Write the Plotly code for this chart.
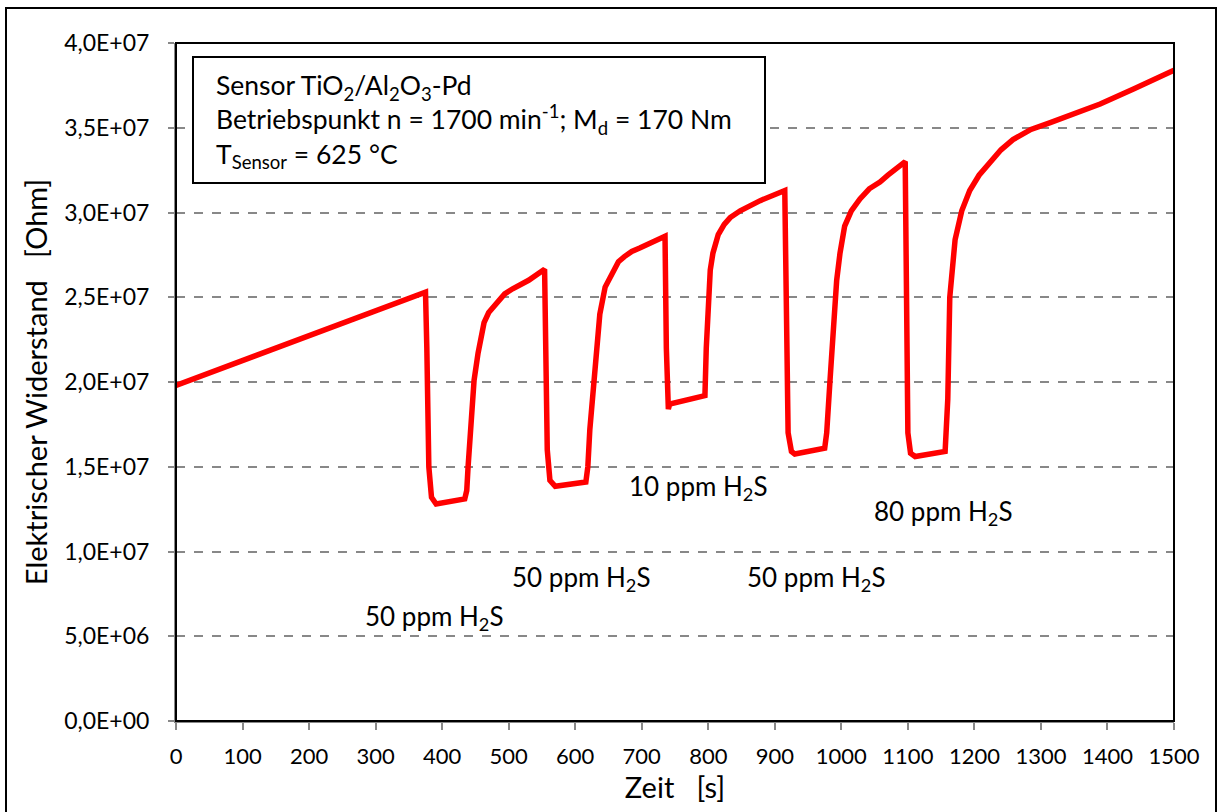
import plotly.graph_objects as go

# Time [s] and electrical resistance [Ohm]
zeit = [0, 375, 377, 380, 384, 391, 434, 437, 439, 444, 448, 454, 463, 470, 482, 494, 506, 530, 554,
        556, 558, 562, 570, 616, 619, 622, 627, 630, 634, 637, 645, 657, 665, 674, 685, 697, 718, 735,
        737, 738, 740, 742, 760, 795, 797, 800, 803, 807, 815, 824, 833, 848, 862, 878, 915,
        917, 920, 925, 930, 975, 978, 983, 988, 993, 998, 1005, 1015, 1028, 1042, 1058, 1070, 1080, 1096,
        1098, 1100, 1104, 1111, 1156, 1158, 1160, 1163, 1167, 1171, 1181, 1193, 1207, 1223, 1240, 1258,
        1285, 1314, 1350, 1389, 1440, 1500]
widerstand = [1.98e7, 2.53e7, 2.20e7, 1.50e7, 1.32e7, 1.28e7, 1.31e7, 1.36e7, 1.50e7, 1.80e7,
              2.01e7, 2.17e7, 2.35e7, 2.41e7, 2.47e7, 2.52e7, 2.55e7, 2.60e7, 2.665e7,
              2.20e7, 1.60e7, 1.42e7, 1.385e7, 1.41e7, 1.50e7, 1.72e7, 1.95e7, 2.13e7, 2.32e7,
              2.40e7, 2.56e7, 2.66e7, 2.71e7, 2.74e7, 2.77e7, 2.79e7, 2.83e7, 2.86e7,
              2.20e7, 1.87e7, 1.84e7, 1.87e7, 1.885e7, 1.92e7, 2.20e7, 2.50e7, 2.66e7, 2.76e7,
              2.87e7, 2.93e7, 2.97e7, 3.01e7, 3.04e7, 3.07e7, 3.13e7,
              2.50e7, 1.70e7, 1.59e7, 1.575e7, 1.61e7, 1.70e7, 2.01e7, 2.37e7, 2.60e7, 2.76e7,
              2.92e7, 3.01e7, 3.08e7, 3.14e7, 3.18e7, 3.22e7, 3.25e7, 3.30e7,
              2.50e7, 1.70e7, 1.58e7, 1.56e7, 1.59e7, 1.70e7, 1.90e7, 2.50e7, 2.70e7, 2.84e7,
              3.01e7, 3.13e7, 3.22e7, 3.29e7, 3.37e7, 3.43e7, 3.49e7, 3.53e7, 3.58e7, 3.64e7,
              3.73e7, 3.84e7]

x_ticks = [0, 100, 200, 300, 400, 500, 600, 700, 800, 900, 1000, 1100, 1200, 1300, 1400, 1500]
y_ticks = [0, 5e6, 1e7, 1.5e7, 2e7, 2.5e7, 3e7, 3.5e7, 4e7]
y_ticklabels = ["0,0E+00", "5,0E+06", "1,0E+07", "1,5E+07", "2,0E+07", "2,5E+07",
                "3,0E+07", "3,5E+07", "4,0E+07"]

label_texts = ["50 ppm H<sub>2</sub>S", "50 ppm H<sub>2</sub>S", "10 ppm H<sub>2</sub>S",
               "50 ppm H<sub>2</sub>S", "80 ppm H<sub>2</sub>S"]
label_x = [389, 610, 786, 963, 1154]
label_y = [6.1e6, 8.4e6, 1.38e7, 8.4e6, 1.23e7]

info_text = ("Sensor TiO<sub>2</sub>/Al<sub>2</sub>O<sub>3</sub>-Pd<br>"
             "Betriebspunkt n = 1700 min<sup>-1</sup>; M<sub>d</sub> = 170 Nm<br>"
             "T<sub>Sensor</sub> = 625 °C")

NB = "\u00a0"
x_title = "Zeit" + NB * 3 + "[s]"
y_title = "Elektrischer Widerstand" + NB * 3 + "[Ohm]"

FONT = "Lato"

fig = go.Figure()
fig.add_trace(go.Scatter(x=zeit, y=widerstand, mode="lines",
                         line=dict(color="#ff0000", width=5.5), showlegend=False))

for t, xx, yy in zip(label_texts, label_x, label_y):
    fig.add_annotation(x=xx, y=yy, xref="x", yref="y", text=t, showarrow=False,
                       font=dict(family=FONT, size=26, color="black"))

# info box
fig.add_shape(type="rect", xref="paper", yref="paper",
              x0=(193 - 176) / 998, x1=(765 - 176) / 998,
              y0=(721 - 183) / 678, y1=(721 - 57) / 678,
              line=dict(color="black", width=2), fillcolor="white", layer="above")
fig.add_annotation(xref="paper", yref="paper", x=(214 - 176) / 998, y=(721 - 121) / 678,
                   xanchor="left", yanchor="middle", align="left", text=info_text,
                   showarrow=False, font=dict(family=FONT, size=26.5, color="black"))

# plot border (top/right black)
fig.add_shape(type="rect", xref="paper", yref="paper", x0=0, x1=1, y0=0, y1=1,
              line=dict(color="black", width=2), layer="above")
# outer chart frame
fig.add_shape(type="rect", xref="paper", yref="paper",
              x0=(6 - 176) / 998, x1=(1216 - 176) / 998,
              y0=(721 - 830) / 678, y1=(721 - 8) / 678,
              line=dict(color="black", width=2))

fig.update_layout(
    width=1224, height=812,
    margin=dict(l=176, r=50, t=43, b=91),
    paper_bgcolor="white", plot_bgcolor="white",
    font=dict(family=FONT, size=22, color="black"),
    xaxis=dict(range=[0, 1500], tickvals=x_ticks, ticks="outside", ticklen=7,
               tickcolor="#888888", tickwidth=1.5, showgrid=False, zeroline=False,
               showline=True, linecolor="#888888", linewidth=2, ticklabelstandoff=8,
               tickfont=dict(family=FONT, size=22),
               title=dict(text=x_title, font=dict(family=FONT, size=29), standoff=2)),
    yaxis=dict(range=[0, 4e7], tickvals=y_ticks, ticktext=y_ticklabels, ticks="outside",
               ticklen=6, tickcolor="#888888", tickwidth=1.5, ticklabelstandoff=14,
               showgrid=True, gridcolor="#888888", gridwidth=1.5, griddash="dash",
               zeroline=False, showline=True, linecolor="#888888", linewidth=2,
               tickfont=dict(family=FONT, size=23),
               title=dict(text=y_title, font=dict(family=FONT, size=29), standoff=8)),
)

fig.write_html("out.html", config={"displayModeBar": False},
               post_script="document.body.style.margin='0';")
